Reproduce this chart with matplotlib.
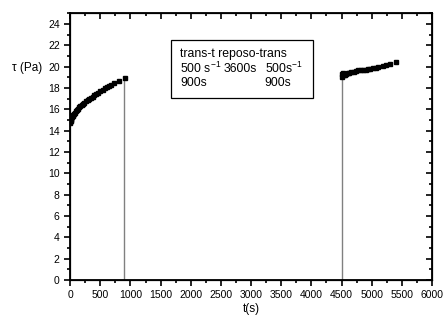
import matplotlib
matplotlib.use("Agg")
import matplotlib.pyplot as plt
from matplotlib.patches import Rectangle
from matplotlib.ticker import MultipleLocator

plt.rcParams['font.family'] = ['Liberation Sans', 'DejaVu Sans']

# first shear period (500 s^-1, 900 s)
t1 = [0, 5, 10, 15, 22, 30, 40, 50, 62, 78, 95, 112, 130, 150, 170, 190, 212,
      235, 260, 290, 320, 345, 375, 400, 430, 460, 500, 540, 570, 610, 640,
      680, 720, 805, 905]
tau1 = [14.7, 14.8, 14.9, 15.0, 15.1, 15.25, 15.4, 15.5, 15.6, 15.7, 15.85,
        15.95, 16.05, 16.2, 16.3, 16.4, 16.5, 16.6, 16.75, 16.87, 17.0, 17.1,
        17.2, 17.34, 17.45, 17.56, 17.72, 17.85, 17.97, 18.08, 18.2, 18.3,
        18.43, 18.65, 18.95]

# second shear period after 3600 s rest
t2 = [4500, 4510, 4520, 4530, 4545, 4560, 4580, 4600, 4630, 4660, 4700, 4740,
      4780, 4820, 4860, 4900, 4940, 4980, 5020, 5070, 5110, 5180, 5240, 5300,
      5400]
tau2 = [19.0, 19.3, 19.4, 19.3, 19.2, 19.25, 19.3, 19.37, 19.45, 19.5, 19.55,
        19.6, 19.65, 19.65, 19.65, 19.7, 19.75, 19.8, 19.85, 19.9, 20.0, 20.1,
        20.15, 20.25, 20.45]

# rest interval boundaries
rest_lines = [900, 4500]
rest_tops = [18.95, 19.0]

fig = plt.figure(figsize=(4.44, 3.2), dpi=100)
ax = fig.add_axes([0.158, 0.125, 0.815, 0.833])

for x, top in zip(rest_lines, rest_tops):
    ax.plot([x, x], [0, top], color='#808080', lw=1.0, zorder=1)

ax.plot(t1, tau1, 's', color='black', markersize=3.4, zorder=2)
ax.plot(t2, tau2, 's', color='black', markersize=3.4, zorder=2)

ax.set_xlim(0, 6000)
ax.set_ylim(0, 25)
ax.xaxis.set_major_locator(MultipleLocator(500))
ax.xaxis.set_minor_locator(MultipleLocator(250))
ax.yaxis.set_major_locator(MultipleLocator(2))
ax.yaxis.set_minor_locator(MultipleLocator(1))

for s in ax.spines.values():
    s.set_linewidth(1.3)

ax.tick_params(which='both', direction='out', labelsize=7.5, width=1.2,
               top=False, right=False)
ax.tick_params(which='major', length=4)
ax.tick_params(which='minor', length=2.5)

# inward ticks on the top and right spines
ax2 = ax.twinx()
ax2.set_ylim(0, 25)
ax2.yaxis.set_major_locator(MultipleLocator(2))
ax2.yaxis.set_minor_locator(MultipleLocator(1))
ax2.tick_params(which='both', direction='in', labelright=False, width=1.2)
ax2.tick_params(which='major', length=4)
ax2.tick_params(which='minor', length=2.5)
ax3 = ax.twiny()
ax3.set_xlim(0, 6000)
ax3.xaxis.set_major_locator(MultipleLocator(500))
ax3.xaxis.set_minor_locator(MultipleLocator(250))
ax3.tick_params(which='both', direction='in', labeltop=False, width=1.2)
ax3.tick_params(which='major', length=4)
ax3.tick_params(which='minor', length=2.5)

ax.set_xlabel('t(s)', fontsize=8.5, labelpad=2)
fig.text(0.027, 0.787, 'τ (Pa)', fontsize=8.5, ha='left', va='center')

# annotation box describing the test protocol
ax.add_patch(Rectangle((1672, 17.06), 2350, 5.44, fc='white', ec='black',
                       lw=0.9, zorder=3))
tf = dict(fontsize=8.8, va='center', ha='left', zorder=4)
ax.text(1821, 21.18, 'trans-t reposo-trans', **tf)
ax.text(1821, 19.8, '500 s$^{\\mathregular{-1}}$', **tf)
ax.text(2550, 19.8, '3600s', **tf)
ax.text(3228, 19.8, '500s$^{\\mathregular{-1}}$', **tf)
ax.text(1821, 18.48, '900s', **tf)
ax.text(3228, 18.48, '900s', **tf)

fig.savefig('out.png', dpi=100)
